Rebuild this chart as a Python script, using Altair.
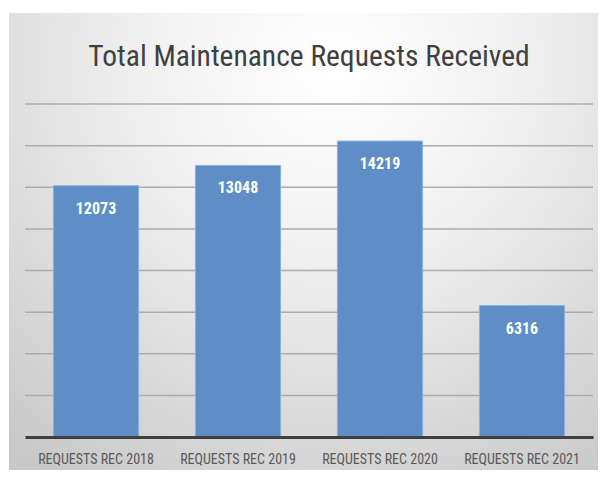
import altair as alt
import pandas as pd

title_text = "Total Maintenance Requests Received"
categories = ["REQUESTS REC 2018", "REQUESTS REC 2019", "REQUESTS REC 2020", "REQUESTS REC 2021"]
values = [12073, 13048, 14219, 6316]
grid_values = [2000, 4000, 6000, 8000, 10000, 12000, 14000, 16000]

df = pd.DataFrame({"cat": categories, "val": values})
grid_df = pd.DataFrame({"v": grid_values})
bg_df = pd.DataFrame({"k": [0]})

NARROW = "Liberation Sans Narrow, Arial Narrow, Roboto Condensed, Open Sans, sans-serif"

yscale = alt.Scale(domain=[0, 16000], nice=False)

gradient = alt.Gradient(
    gradient="radial",
    stops=[alt.GradientStop(color="#ffffff", offset=0),
           alt.GradientStop(color="#f2f2f2", offset=0.35),
           alt.GradientStop(color="#c8c8c8", offset=1)],
    x1=0.55, y1=0.2, r1=0.0, x2=0.55, y2=0.2, r2=0.85,
)

bg = alt.Chart(bg_df).mark_rect(fill=gradient, clip=False).encode(
    x=alt.value(-16), x2=alt.value(573), y=alt.value(-91), y2=alt.value(366)
)

title = alt.Chart(bg_df).mark_text(
    text=title_text, font=NARROW, fontSize=29.5, color="#404040",
    align="center", baseline="middle"
).encode(x=alt.value(284), y=alt.value(-47))

grid = alt.Chart(grid_df).mark_rule(color="#ababab", strokeWidth=1.5).encode(
    y=alt.Y("v:Q", scale=yscale, axis=None)
)

base = alt.Chart(df).encode(
    x=alt.X("cat:N", sort=categories, title=None,
            scale=alt.Scale(paddingInner=0.4, paddingOuter=0.2),
            axis=alt.Axis(labelFont=NARROW, labelFontSize=14, labelColor="#595959",
                          labelPadding=15, ticks=False, domainColor="#3f3f3f",
                          domainWidth=3, grid=False, labelAngle=0, zindex=1)),
    y=alt.Y("val:Q", scale=yscale, axis=None),
)

bars = base.mark_bar(color="#5f8ec6", stroke="#8db2df", strokeWidth=1)
labels = base.mark_text(dy=23, baseline="middle", color="white", font=NARROW,
                        fontSize=16, fontWeight="bold").encode(text=alt.Text("val:Q", format="d"))

chart = alt.layer(bg, title, grid, bars, labels).properties(
    width=568, height=333,
    padding={"left": 1, "top": 5, "right": 0, "bottom": 0},
).configure_view(stroke=None).configure(background="white")

chart.save("out.html", embed_options={"renderer": "svg", "actions": False})
